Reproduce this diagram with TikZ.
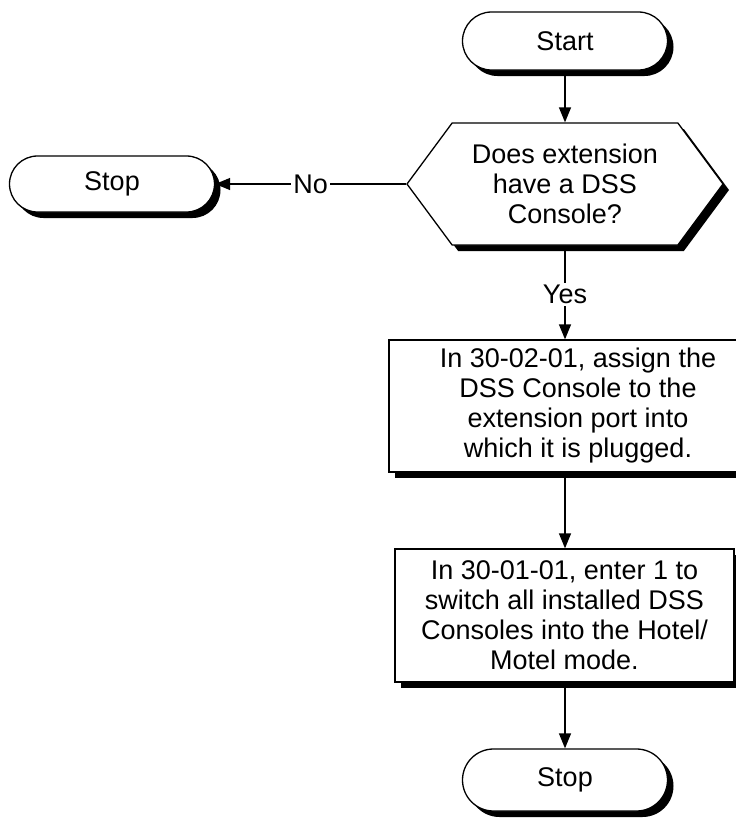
\documentclass[tikz,border=0pt]{standalone}
\usepackage{fontspec}
\setmainfont{Liberation Sans}
\usetikzlibrary{shapes.misc}
\usetikzlibrary{shapes.symbols}
\usetikzlibrary{shadows}
\usetikzlibrary{arrows.meta}
\tikzset{every picture/.style={x=1pt,y=-1pt,line width=1.3pt,>={Triangle[length=15pt,width=12pt]}},
every node/.style={font=\fontsize{27}{30}\selectfont},
blackshadow/.style={drop shadow={shadow xshift=6pt,shadow yshift=-6pt,fill=black,opacity=1}},
terminal/.style={rounded rectangle,draw,fill=white,minimum width=205pt,minimum height=58pt,inner sep=0pt,blackshadow},
decision/.style={signal,signal to=west and east,signal pointer angle=107,draw,fill=white,minimum width=316pt,minimum height=122pt,inner sep=0pt,align=center,blackshadow},
process/.style={rectangle,draw,fill=white,inner sep=0pt,align=center,blackshadow},
answer/.style={fill=white,inner sep=2pt}}

\begin{document}
\begin{tikzpicture}
\useasboundingbox (0,0) rectangle (736,823);
\node (start) at (565,41) [terminal] {Start};
\node (dss) at (565,184) [decision] {Does extension\\have a DSS\\Console?};
\node (stopa) at (112,184) [terminal,minimum height=56pt] {Stop};
\node (assign) at (578,406) [process,minimum width=378pt,minimum height=132pt] {In 30-02-01, assign the\\DSS Console to the\\extension port into\\which it is plugged.};
\node (hotel) at (564.5,615.5) [process,minimum width=339pt,minimum height=133pt] {In 30-01-01, enter 1 to\\switch all installed DSS\\Consoles into the Hotel/\\Motel mode.};
\node (stopb) at (565,780) [terminal,minimum height=62pt] {Stop};
% connectors
\draw[->] (start.south) -- (dss.north);
\draw[->] (dss.west) -- node[answer] {No} (stopa.east);
\draw[->] (dss.south) -- node[answer,pos=0.52] {Yes} (dss.south |- assign.north);
\draw[->] (dss.south |- assign.south) -- (dss.south |- hotel.north);
\draw[->] (dss.south |- hotel.south) -- (stopb.north);
\end{tikzpicture}
\end{document}
